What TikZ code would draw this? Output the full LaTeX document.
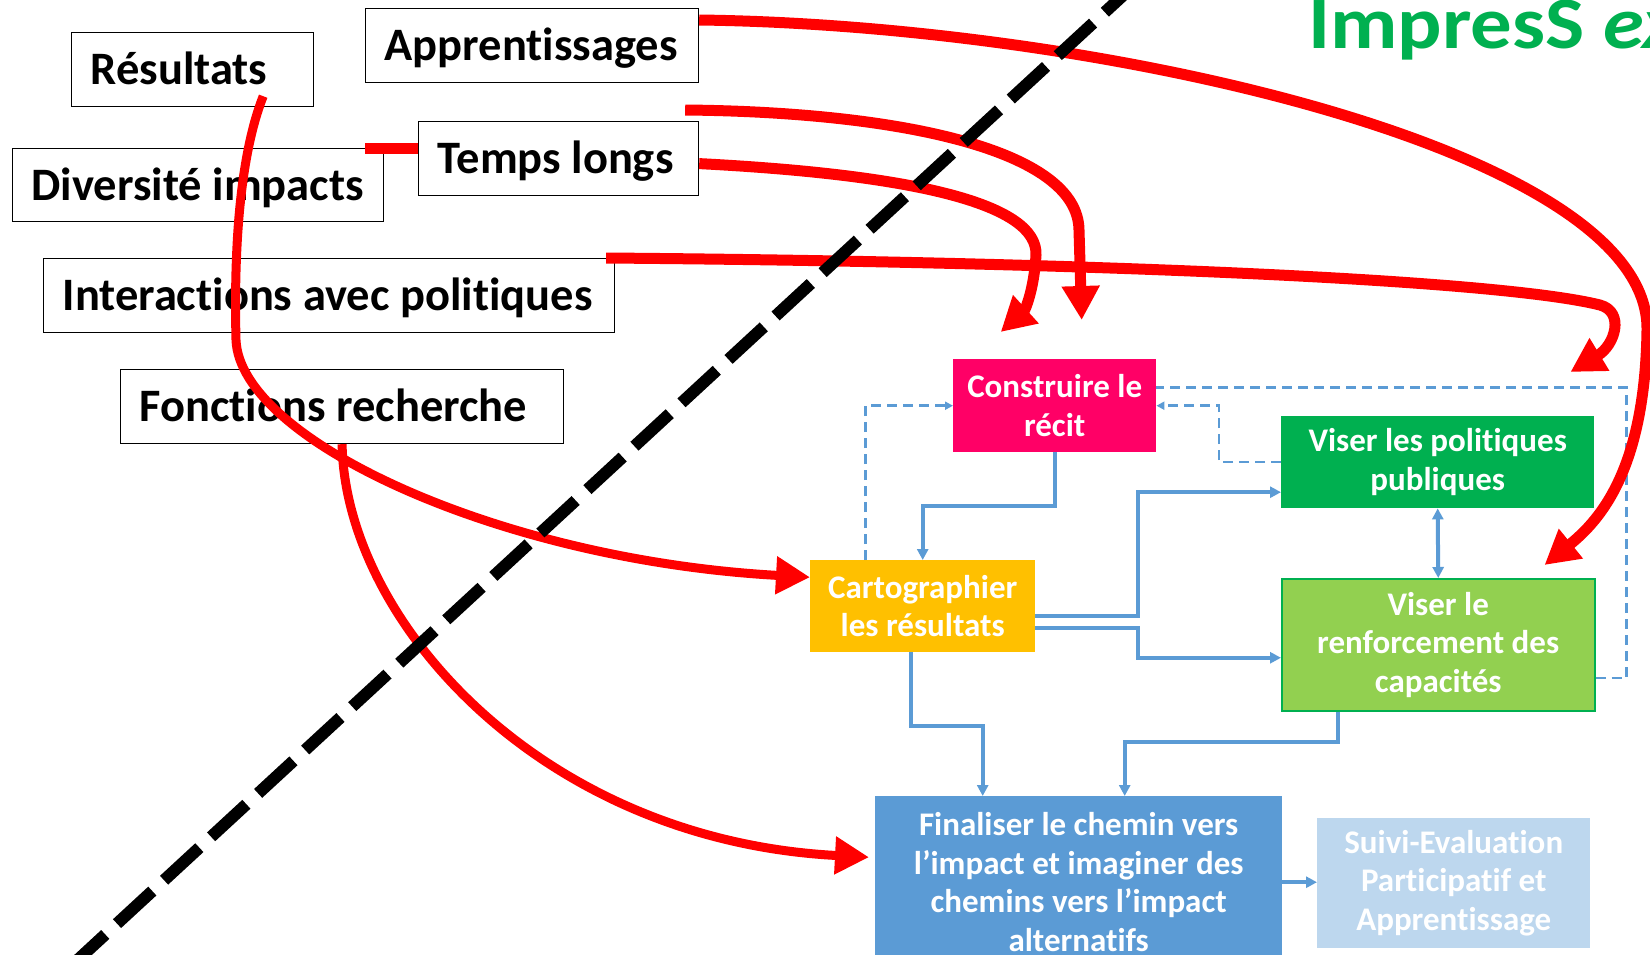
\documentclass[tikz,border=0pt]{standalone}
\usepackage{fontspec}
\setmainfont{Carlito}[Ligatures=NoCommon]
\newfontfamily\titrefont{Carlito}[Ligatures=NoCommon,FakeStretch=1.12]
\usetikzlibrary{arrows.meta}
\hyphenpenalty=10000
\exhyphenpenalty=10000
\definecolor{rouge}{RGB}{255,0,0}
\definecolor{bleu}{RGB}{91,155,213}
\definecolor{rose}{RGB}{255,0,102}
\definecolor{jaune}{RGB}{255,192,0}
\definecolor{vert}{RGB}{0,176,80}
\definecolor{vertclair}{RGB}{146,208,80}
\definecolor{bleuclair}{RGB}{189,215,238}
\tikzset{
  lbox/.style={draw, line width=1.2pt, fill=white, anchor=north west, inner xsep=19pt, inner ysep=0pt,
    minimum height=74pt, text height=40pt, text depth=10pt, align=flush left, font=\bfseries\fontsize{46.5}{54}\selectfont},
  fbox/.style={anchor=north west, inner sep=0pt, text=white, align=center, font=\bfseries\fontsize{33}{38.5}\selectfont},
  rline/.style={rouge, line width=11pt, line join=round, -{Triangle[length=34pt,width=36pt]}},
  bline/.style={bleu, line width=4pt, -{Triangle[length=11pt,width=11pt]}},
  bdash/.style={bleu, line width=2.5pt, dash pattern=on 10pt off 6pt, -{Triangle[length=8pt,width=8pt]}},
}
\begin{document}
\begin{tikzpicture}[x=1pt,y=-1pt]
        \useasboundingbox (0,0) rectangle (1650,954);
        \node[anchor=base west, inner sep=0pt, text=vert, font=\titrefont\bfseries\fontsize{74}{88}\selectfont] (titre) at (1308,48) {ImpresS \textit{ex}};
        \node[fbox, fill=rose, minimum width=203pt, minimum height=93pt] (constr) at (953,359) {Construire le\\récit};
        \node[fbox, fill=vert, minimum width=313pt, minimum height=92pt] (pol) at (1281,416) {Viser les politiques\\publiques};
        \node[fbox, fill=jaune, minimum width=225pt, minimum height=92pt] (carto) at (810,560) {Cartographier\\les résultats};
        \node[fbox, fill=vertclair, draw=vert, line width=1.5pt, minimum width=313pt, minimum height=132pt] (renf) at (1281,578) {Viser le\\renforcement des\\capacités};
        \node[fbox, fill=bleu, minimum width=407pt, minimum height=172pt] (fin) at (875,796) {Finaliser le chemin vers\\l’impact et imaginer des\\chemins vers l’impact\\alternatifs};
        \node[fbox, fill=bleuclair, minimum width=273pt, minimum height=130pt] (suivi) at (1317,818) {Suivi-Evaluation\\Participatif et\\Apprentissage};
        \draw[bline] (constr.south) -- ++(0,54) -| (carto.north);
        \draw[bline] ([yshift=-10pt]carto.east) -- ++(103,0) |- ([yshift=-30pt]pol.west);
        \draw[bline] ([yshift=-22pt]carto.east) -- ++(103,0) |- ([yshift=-13pt]renf.west);
        \draw[bline, {Triangle[length=11pt,width=11pt]}-{Triangle[length=11pt,width=11pt]}] (pol.south) -- (renf.north);
        \draw[bline] ([xshift=-12pt]carto.south) -- ++(0,74) -| ([xshift=-96pt]fin.north);
        \draw[bline] ([xshift=-100pt]renf.south) -- ++(0,30) -| ([xshift=46pt]fin.north);
        \draw[bline] (fin.east) -- (fin.east -| suivi.west);
        \draw[bdash] ([xshift=-57pt]carto.north) |- (constr.west);
        \draw[bdash] (pol.west) -- ++(-62,0) |- (constr.east);
        \draw[bdash, -] ([yshift=-33pt]renf.east) -- ++(31,0) |- ([yshift=18pt]constr.east);
        \node[lbox, text width=204pt] (res) at (71,32) {Résultats};
        \node[lbox, text width=295pt] (appr) at (365,8) {Apprentissages};
        \node[lbox, text width=242pt] (temps) at (418,121) {Temps longs};
        \node[lbox, text width=333pt, minimum height=73pt] (div) at (12,148) {Diversité impacts};
        \node[lbox, text width=533pt] (inter) at (43,258) {Interactions avec politiques};
        \node[lbox, text width=405pt] (fonc) at (120,369) {Fonctions recherche};
        \draw[rline, -] ([xshift=-19pt]div.north east) -- (div.north east -| temps.west);
        \draw[rline] ([yshift=-12pt]appr.north east) .. controls (1100,25) and (1650,150) .. (1647,330) .. controls (1645,470) and (1600,520) .. ([xshift=-51pt,yshift=13pt]renf.north east);
        \draw[rline] ([yshift=-5pt]temps.east) .. controls (920,175) and (1038,205) .. (1036,255) .. controls (1034,290) and (1025,310) .. ([xshift=-54pt,yshift=27pt]constr.north);
        \draw[rline] ([xshift=-14pt,yshift=11pt]temps.north east) .. controls (900,112) and (1078,150) .. (1079,230) -- ([xshift=27pt,yshift=39pt]constr.north);
        \draw[rline] ([xshift=-9pt]inter.north east) .. controls (1100,262) and (1500,280) .. (1600,305) .. controls (1625,312) and (1615,345) .. ([xshift=-24pt,yshift=44pt]pol.north east);
        \draw[rline, line width=9pt] ([xshift=-51pt,yshift=11pt]res.south east) .. controls (238,160) and (234,260) .. (236,340) .. controls (240,440) and (500,560) .. ([yshift=29pt]carto.west);
        \draw[rline, line width=9pt] (fonc.south) .. controls (345,620) and (540,840) .. ([xshift=-6pt,yshift=25pt]fin.west);
        \draw[black, line width=12pt, dash pattern=on 48pt off 16pt] (70,967) -- (1130,-11);
\end{tikzpicture}
\end{document}
